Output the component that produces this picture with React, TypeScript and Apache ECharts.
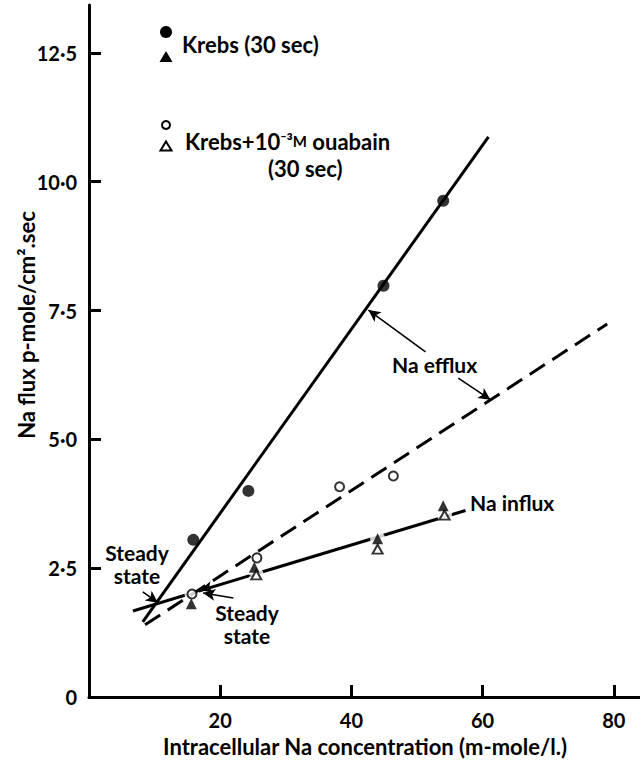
import React, { useEffect, useRef } from "react";
import * as echarts from "echarts";

// ---- tick values / labels ----
const xTicks = [20, 40, 60, 80];
const xTickLabels = ["20", "40", "60", "80"];
const yTicks = [0, 2.5, 5, 7.5, 10, 12.5];
const yTickLabels = ["0", "2·5", "5·0", "7·5", "10·0", "12·5"];

// ---- data points (x: intracellular Na, y: Na flux) ----
const effluxKrebs = [[15.9, 3.05], [24.3, 4.0], [44.9, 7.98], [54.0, 9.63]];
const effluxOuabain = [[15.7, 2.0], [25.6, 2.7], [38.2, 4.08], [46.4, 4.29]];
const influxKrebs = [[15.6, 1.81], [25.2, 2.52], [44.0, 3.07], [54.0, 3.71]];
const influxOuabain = [[25.5, 2.37], [44.0, 2.87], [54.2, 3.53]];

// ---- fitted lines ----
const effluxKrebsLine = [[8.2, 1.46], [60.9, 10.87]];
const effluxOuabainLine = [[8.55, 1.4], [79.0, 7.24]];
const influxLine = [[6.7, 1.67], [57.4, 3.62]];

// ---- annotation arrows [from, to] ----
const annotationArrows = [
  [[51.3, 6.7], [42.6, 7.51]],
  [[56.3, 6.19], [61.2, 5.77]],
  [[8.2, 2.04], [10.5, 1.83]],
  [[22.0, 1.92], [17.4, 2.02]],
  [[24.6, 2.36], [17.0, 2.07]],
];

const FONT = "Lato, 'DejaVu Sans', sans-serif";

export default function App() {
  const ref = useRef<HTMLDivElement>(null);

  useEffect(() => {
    if (!ref.current) return;
    const chart = echarts.init(ref.current, undefined, { renderer: "svg" });
    const txt = { fontFamily: FONT, fontSize: 21, fontWeight: "bold" as const, fill: "#000" };

    const option: any = {
      animation: false,
      backgroundColor: "#fff",
      grid: { left: 89, top: 5, width: 551, height: 692, containLabel: false },
      xAxis: {
        type: "value",
        min: 0,
        max: 84,
        axisLine: { show: true, lineStyle: { color: "#000", width: 3 } },
        axisTick: { show: true, inside: true, length: 12, customValues: xTicks, lineStyle: { color: "#000", width: 3 } },
        axisLabel: {
          customValues: xTicks,
          formatter: (v: number) => {
            const i = xTicks.findIndex((t) => Math.abs(t - v) < 1e-6);
            return i >= 0 ? xTickLabels[i] : "";
          },
          margin: 13,
          color: "#000",
          fontFamily: FONT,
          fontSize: 20,
          fontWeight: "bold",
        },
        splitLine: { show: false },
      },
      yAxis: {
        type: "value",
        min: 0,
        max: 13.43,
        axisLine: { show: true, lineStyle: { color: "#000", width: 3 } },
        axisTick: { show: true, inside: true, length: 12, customValues: yTicks, lineStyle: { color: "#000", width: 3 } },
        axisLabel: {
          customValues: yTicks,
          formatter: (v: number) => {
            const i = yTicks.findIndex((t) => Math.abs(t - v) < 1e-6);
            return i >= 0 ? yTickLabels[i] : "";
          },
          margin: 12,
          color: "#000",
          fontFamily: FONT,
          fontSize: 20,
          fontWeight: "bold",
        },
        splitLine: { show: false },
      },
      series: [
        {
          name: "Na influx",
          type: "line",
          data: influxLine,
          showSymbol: false,
          z: 1,
          lineStyle: { color: "#000", width: 3 },
          markLine: {
            silent: true,
            symbol: ["none", "arrow"],
            symbolSize: [9, 12],
            label: { show: false },
            lineStyle: { color: "#000", width: 1.6, type: "solid" },
            data: annotationArrows.map(([a, b]) => [{ coord: a }, { coord: b }]),
          },
        },
        {
          name: "halo",
          type: "scatter",
          data: [...influxKrebs, ...influxOuabain, ...effluxOuabain],
          symbol: "circle",
          symbolSize: 15,
          z: 2,
          silent: true,
          itemStyle: { color: "#fff" },
        },
        {
          name: "Na efflux (Krebs)",
          type: "line",
          data: effluxKrebsLine,
          showSymbol: false,
          z: 4,
          lineStyle: { color: "#000", width: 3 },
        },
        {
          name: "Na efflux (ouabain)",
          type: "line",
          data: effluxOuabainLine,
          showSymbol: false,
          z: 4,
          lineStyle: { color: "#000", width: 3, type: [18, 9] },
        },
        {
          name: "Efflux Krebs",
          type: "scatter",
          data: effluxKrebs,
          symbol: "circle",
          symbolSize: 12,
          z: 5,
          itemStyle: { color: "#000" },
        },
        {
          name: "Efflux ouabain",
          type: "scatter",
          data: effluxOuabain,
          symbol: "emptyCircle",
          symbolSize: 9,
          z: 5,
          itemStyle: { color: "#000", borderColor: "#000", borderWidth: 2.2 },
        },
        {
          name: "Influx Krebs",
          type: "scatter",
          data: influxKrebs,
          symbol: "triangle",
          symbolSize: [11, 11],
          z: 5,
          itemStyle: { color: "#000" },
        },
        {
          name: "Influx ouabain",
          type: "scatter",
          data: influxOuabain,
          symbol: "emptyTriangle",
          symbolSize: [10, 9],
          z: 5,
          itemStyle: { color: "#000", borderColor: "#000", borderWidth: 2 },
        },
      ],
      graphic: [
        // legend symbols
        { type: "circle", shape: { cx: 166, cy: 32, r: 6 }, style: { fill: "#000" } },
        { type: "polygon", shape: { points: [[166, 51], [172.5, 62], [159.5, 62]] }, style: { fill: "#000" } },
        { type: "circle", shape: { cx: 166, cy: 125, r: 4 }, style: { fill: "#fff", stroke: "#000", lineWidth: 2 } },
        { type: "polygon", shape: { points: [[166, 141.5], [171.5, 150.5], [160.5, 150.5]] }, style: { fill: "#fff", stroke: "#000", lineWidth: 2 } },
        { type: "text", x: 182, y: 44, style: { ...txt, fontSize: 22, text: "Krebs (30 sec)", textVerticalAlign: "middle" } },
        {
          type: "text",
          x: 185,
          y: 141,
          style: {
            ...txt,
            fontSize: 22,
            text: "{a|Krebs+10}{s|⁻³}{m|M}{a| ouabain}",
            textVerticalAlign: "middle",
            rich: {
              a: { fontFamily: FONT, fontSize: 22, fontWeight: "bold", color: "#000" },
              s: { fontFamily: FONT, fontSize: 19, fontWeight: "bold", color: "#000" },
              m: { fontFamily: FONT, fontSize: 15, fontWeight: "bold", color: "#000" },
            },
          },
        },
        { type: "text", x: 268, y: 168, style: { ...txt, fontSize: 22, text: "(30 sec)", textVerticalAlign: "middle" } },
        // annotations
        { type: "text", x: 392, y: 364, style: { ...txt, text: "Na efflux", textVerticalAlign: "middle" } },
        { type: "text", x: 470, y: 502, style: { ...txt, text: "Na influx", textVerticalAlign: "middle" } },
        { type: "text", x: 137, y: 564, style: { ...txt, text: "Steady\nstate", textAlign: "center", textVerticalAlign: "middle", lineHeight: 23 } },
        { type: "text", x: 247, y: 624, style: { ...txt, text: "Steady\nstate", textAlign: "center", textVerticalAlign: "middle", lineHeight: 23 } },
        // axis titles
        {
          type: "text",
          x: 365,
          y: 746,
          style: { ...txt, fontSize: 22, text: "Intracellular Na concentration (m-mole/l.)", textAlign: "center", textVerticalAlign: "middle" },
        },
        {
          type: "text",
          x: 26,
          y: 325,
          rotation: Math.PI / 2,
          style: { ...txt, fontSize: 22, text: "Na flux p-mole/cm².sec", textAlign: "center", textVerticalAlign: "middle" },
        },
      ],
    };

    chart.setOption(option);
    return () => chart.dispose();
  }, []);

  return (
    <div
      ref={ref}
      style={{ position: "fixed", left: 0, top: 0, width: 640, height: 761, background: "#fff" }}
    />
  );
}
